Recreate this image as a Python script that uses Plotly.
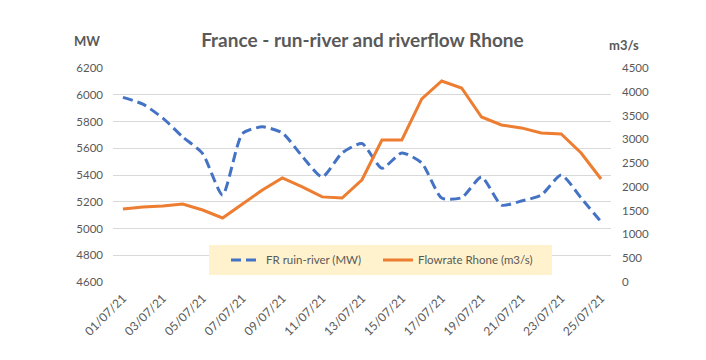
import plotly.graph_objects as go

dates = [f"2021-07-{d:02d}" for d in range(1, 26)]
run_river_mw = [5980, 5930, 5825, 5685, 5560, 5250, 5710, 5760, 5715, 5540,
                5385, 5565, 5635, 5450, 5565, 5490, 5228, 5230, 5385, 5175,
                5205, 5250, 5400, 5228, 5050]
flow_rhone = [1535, 1577, 1598, 1640, 1514, 1346, 1640, 1935, 2187, 2000,
              1790, 1766, 2150, 2986, 2986, 3849, 4227, 4080, 3470, 3302,
              3240, 3133, 3112, 2712, 2166]
tick_dates = dates[::2]
tick_labels = [f"{d[8:10]}/{d[5:7]}/{d[2:4]}" for d in tick_dates]
left_ticks = [4600, 4800, 5000, 5200, 5400, 5600, 5800, 6000, 6200]
right_ticks = [0, 500, 1000, 1500, 2000, 2500, 3000, 3500, 4000, 4500]

grey = "#595959"
font_family = "Lato, Liberation Sans, sans-serif"

fig = go.Figure()
fig.add_trace(go.Scatter(
    x=dates, y=run_river_mw, name="FR ruin-river (MW)", mode="lines",
    line=dict(color="#4472C4", width=3, dash="10px,5px", shape="spline", smoothing=0.6),
    legend="legend",
))
fig.add_trace(go.Scatter(
    x=dates, y=flow_rhone, name="Flowrate Rhone (m3/s)", mode="lines",
    line=dict(color="#ED7D31", width=3), yaxis="y2", legend="legend2",
))

legend_common = dict(orientation="h", y=0.103, yanchor="middle", xanchor="left",
                     bgcolor="rgba(0,0,0,0)", font=dict(size=11.5, color=grey),
                     itemwidth=30)

fig.update_layout(
    width=706, height=360,
    margin=dict(l=105, r=103, t=60, b=86, autoexpand=False),
    paper_bgcolor="white", plot_bgcolor="white",
    font=dict(family=font_family, color=grey, size=11),
    title=dict(text="<b>France - run-river and riverflow Rhone</b>", x=0.502, xanchor="center",
               y=0.911, yanchor="middle", font=dict(size=19, color=grey)),
    xaxis=dict(type="date", range=["2021-06-30 12:00", "2021-07-25 12:00"],
               tickvals=tick_dates, ticktext=tick_labels, tickangle=-45,
               showgrid=False, showline=False, zeroline=False, automargin=False,
               ticks="", ticklabelstandoff=6,
               tickfont=dict(size=12, color=grey)),
    yaxis=dict(range=[4600, 6200], tickvals=left_ticks, showgrid=True,
               gridcolor="#D9D9D9", gridwidth=1, zeroline=False, showline=False,
               automargin=False,
               ticks="", ticklabelstandoff=9, tickfont=dict(size=11.5, color=grey)),
    yaxis2=dict(range=[0, 4500], tickvals=right_ticks, overlaying="y", side="right",
                showgrid=False, zeroline=False, showline=False, automargin=False,
                ticks="", ticklabelstandoff=10, tickfont=dict(size=11.5, color=grey)),
    legend=dict(x=0.2269, **legend_common),
    legend2=dict(x=0.5321, **legend_common),
    showlegend=True,
)
fig.add_shape(type="rect", xref="paper", yref="paper", x0=0.1928, x1=0.8815,
              y0=0.0327, y1=0.1729, fillcolor="#FFF2CC", line=dict(width=0),
              layer="above")
fig.add_annotation(text="<b>MW</b>", xref="paper", yref="paper", x=-0.022, y=1.126,
                   xanchor="right", yanchor="middle", showarrow=False,
                   font=dict(size=13, color=grey))
fig.add_annotation(text="<b>m3/s</b>", xref="paper", yref="paper", x=0.992, y=1.107,
                   xanchor="left", yanchor="middle", showarrow=False,
                   font=dict(size=13, color=grey))

fig.write_html("out.html")
